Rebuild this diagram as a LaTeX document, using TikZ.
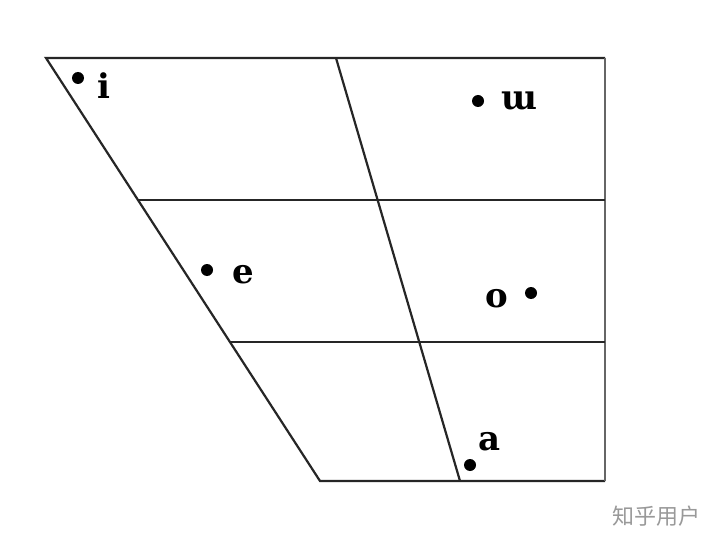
\documentclass[tikz,border=0pt]{standalone}
\usepackage{fontspec}
\setmainfont{DejaVu Serif}
\newfontfamily\cjk{Noto Sans CJK SC}
\begin{document}
\begin{tikzpicture}[x=1pt,y=-1pt,
  edge/.style={line width=2.2pt,draw=black!85},
  vdot/.style={circle,fill=black,inner sep=0pt,minimum size=12pt},
  vlab/.style={font=\fontsize{34}{34}\selectfont\bfseries,inner sep=0pt}]
\useasboundingbox[fill=white] (0,0) rectangle (720,540);
\coordinate (tl) at (46,58);
\coordinate (tm) at (336,58);
\coordinate (tr) at (605,58);
\coordinate (br) at (605,481);
\coordinate (bm) at (460,481);
\coordinate (bl) at (320,481);
\coordinate (l1) at (138,200);
\coordinate (r1) at (605,200);
\coordinate (l2) at (230,342);
\coordinate (r2) at (605,342);
\draw[edge,line join=miter] (tr) -- (tl) -- (bl) -- (br);
\draw[edge,draw=black!60] (tr) -- (br);
\draw[edge] (tm) -- (bm);
\draw[edge] (l1) -- (r1);
\draw[edge] (l2) -- (r2);
\node[vdot] (di) at (78,78) {};
\node[vlab,anchor=base] (li) at (104,99) {i};
\node[vdot] (du) at (478,101) {};
\node[vlab,anchor=base] (lu) at (519,110) {ɯ};
\node[vdot] (de) at (207,270) {};
\node[vlab,anchor=base] (le) at (243,283) {e};
\node[vdot] (do) at (531,293) {};
\node[vlab,anchor=base] (lo) at (497,307) {o};
\node[vdot] (da) at (470,465) {};
\node[vlab,anchor=base] (la) at (490,450) {a};
\node[font=\cjk\fontsize{22}{22}\selectfont,text=black!40,anchor=base] (wm) at (656,524) {知乎用户};
\end{tikzpicture}
\end{document}
